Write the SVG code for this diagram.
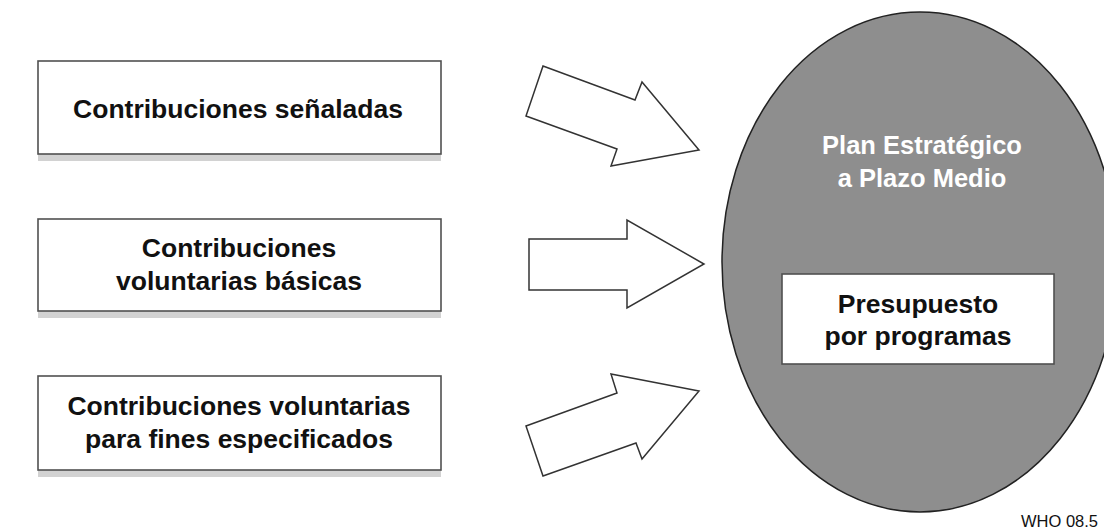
<svg xmlns="http://www.w3.org/2000/svg" width="1104" height="531" viewBox="0 0 1104 531">
<style>
.box{fill:#ffffff;stroke:#505050;stroke-width:1.6}
.shadow{fill:#d2d2d2}
.arrow{fill:#ffffff;stroke:#333333;stroke-width:1.5;stroke-linejoin:miter}
.t{font-family:"Liberation Sans",Arial,sans-serif;font-weight:bold;font-size:26.5px;fill:#111111;text-anchor:middle}
.tw{font-family:"Liberation Sans",Arial,sans-serif;font-weight:bold;font-size:25.5px;fill:#ffffff;text-anchor:middle}
.note{font-family:"Liberation Sans",Arial,sans-serif;font-size:16.5px;fill:#111111}
</style>
<rect width="1104" height="531" fill="#ffffff"/>
<g id="plan">
<ellipse cx="920" cy="262" rx="198" ry="250" fill="#8e8e8e" stroke="#222222" stroke-width="1.5"/>
<text class="tw" x="922" y="154">Plan Estratégico</text>
<text class="tw" x="922" y="187">a Plazo Medio</text>
</g>
<g id="presupuesto">
<rect class="box" x="782" y="274" width="272" height="90"/>
<text class="t" x="918" y="313">Presupuesto</text>
<text class="t" x="918" y="345">por programas</text>
</g>
<g id="box1">
<rect class="shadow" x="38" y="154" width="403" height="7"/>
<rect class="box" x="38" y="61" width="403" height="93"/>
<text class="t" x="238" y="118">Contribuciones señaladas</text>
</g>
<g id="box2">
<rect class="shadow" x="38" y="311" width="403" height="7"/>
<rect class="box" x="38" y="219" width="403" height="92"/>
<text class="t" x="239" y="257">Contribuciones</text>
<text class="t" x="239" y="290">voluntarias básicas</text>
</g>
<g id="box3">
<rect class="shadow" x="38" y="470" width="403" height="7"/>
<rect class="box" x="38" y="376" width="403" height="94"/>
<text class="t" x="239" y="415">Contribuciones voluntarias</text>
<text class="t" x="239" y="448">para fines especificados</text>
</g>
<g id="connectors">
<polygon class="arrow" points="543,66 635,100 642,82 699,150 611,166 617,149 526,116"/>
<polygon class="arrow" points="529,239 627,239 627,220 704,264 627,308 627,290 529,290"/>
<polygon class="arrow" points="526,426 617,393 611,374 699,391 642,459 636,443 543,476"/>
</g>
<text class="note" x="1021" y="527">WHO 08.5</text>
</svg>
